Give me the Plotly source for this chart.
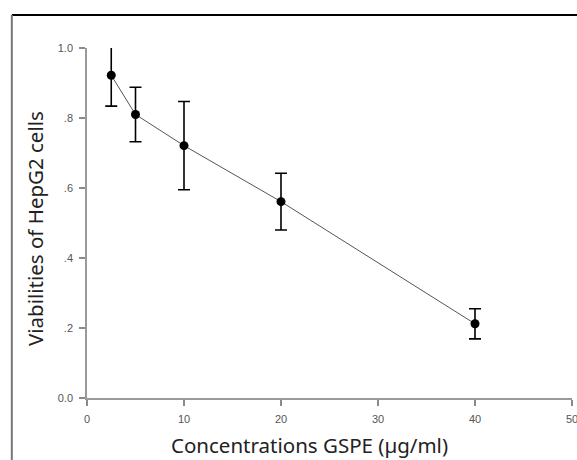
import plotly.graph_objects as go

# data
concentrations = [2.5, 5, 10, 20, 40]
viability = [0.922, 0.810, 0.721, 0.561, 0.212]
viability_sd = [0.088, 0.078, 0.126, 0.081, 0.043]

y_ticks = [0, 0.2, 0.4, 0.6, 0.8, 1.0]
y_tick_labels = ["0.0", ".2", ".4", ".6", ".8", "1.0"]
x_ticks = [0, 10, 20, 30, 40, 50]

fig = go.Figure()

fig.add_trace(go.Scatter(
    x=concentrations, y=viability,
    mode="lines+markers",
    line=dict(color="#555555", width=1),
    marker=dict(color="black", size=9),
    error_y=dict(type="data", array=viability_sd, visible=True,
                 color="black", thickness=1.6, width=6),
    cliponaxis=True,
    showlegend=False,
))

axis_style = dict(
    showgrid=False, zeroline=False,
    showline=True, linecolor="#9a9a9a", linewidth=1.5,
    ticks="outside", ticklen=6, tickcolor="#8a8a8a", tickwidth=1.5,
    tickfont=dict(family="Liberation Sans, Arial", size=11, color="#555555"),
    ticklabeloverflow="allow", automargin=False, ticklabelstandoff=4,
)

fig.update_xaxes(range=[0, 50], tickvals=x_ticks, **axis_style)
fig.update_yaxes(range=[0, 1.0], tickvals=y_ticks, ticktext=y_tick_labels, **axis_style)

fig.update_layout(
    width=577, height=460,
    margin=dict(l=87, r=5, t=48, b=62),
    plot_bgcolor="white", paper_bgcolor="white",
    annotations=[
        dict(text="Concentrations GSPE (µg/ml)", xref="paper", yref="paper",
             x=0.458, y=-0.134, xanchor="center", yanchor="middle",
             showarrow=False, font=dict(family="Noto Sans", size=20.5, color="#222222")),
        dict(text="Viabilities of HepG2 cells", xref="paper", yref="paper",
             x=-0.107, y=0.483, xanchor="center", yanchor="middle", textangle=-90,
             showarrow=False, font=dict(family="Noto Sans", size=20.5, color="#222222")),
    ],
    shapes=[
        # outer frame: black top edge, grey left edge
        dict(type="line", xref="paper", yref="paper", x0=-0.155, x1=1.02, y0=1.094, y1=1.094,
             line=dict(color="black", width=2)),
        dict(type="line", xref="paper", yref="paper", x0=-0.155, x1=-0.155, y0=1.094, y1=-0.2,
             line=dict(color="#777777", width=2)),
    ],
)

fig.write_html("out.html", config={"displayModeBar": False},
               post_script="document.body.style.margin='0';")
